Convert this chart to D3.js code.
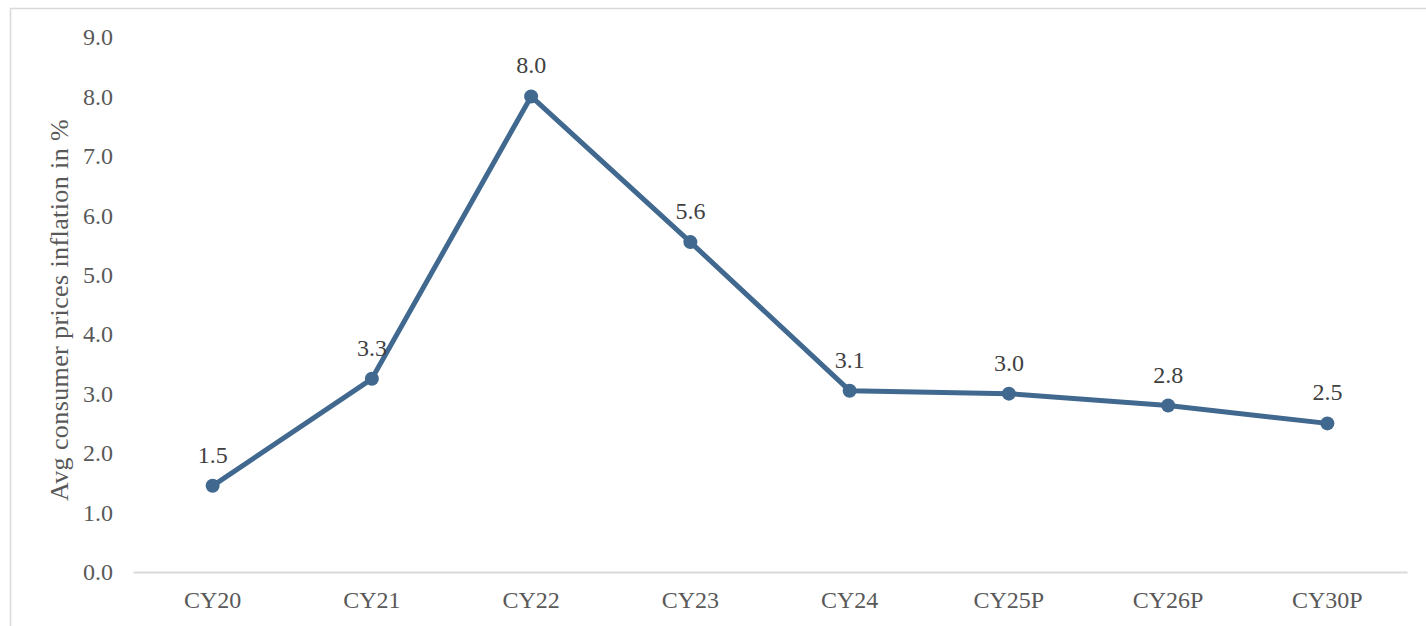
<!DOCTYPE html>
<html>
<head>
<meta charset="UTF-8">
<title>Avg consumer prices inflation</title>
<script src="https://cdn.jsdelivr.net/npm/d3@7"></script>
<style>
    body {
        margin: 0;
        padding: 0;
        background: #fff;
        font-family: 'Liberation Serif', 'Times New Roman', serif;
    }
    svg { display: block; font-family: 'Liberation Serif', 'Times New Roman', serif; }
    .tick text { fill: #595959; font-size: 24px; }
    .lbl { fill: #404040; font-size: 24px; }
</style>
</head>
<body>
<div id="chart"></div>
<script>
    // données
    const categories = ["CY20", "CY21", "CY22", "CY23", "CY24", "CY25P", "CY26P", "CY30P"];
    const inflation = [1.45, 3.25, 8.0, 5.55, 3.05, 3.0, 2.8, 2.5];
    const labels = ["1.5", "3.3", "8.0", "5.6", "3.1", "3.0", "2.8", "2.5"];
    const yTicks = [0, 1, 2, 3, 4, 5, 6, 7, 8, 9];

    const width = 1426, height = 626;
    const margin = { top: 37, right: 19, bottom: 54, left: 133 };

    const svg = d3.select("#chart").append("svg")
        .attr("width", width)
        .attr("height", height);

    // cadre gris clair
    svg.append("rect")
        .attr("x", 10.5).attr("y", 8.5)
        .attr("width", width).attr("height", height)
        .attr("fill", "none")
        .attr("stroke", "#d9d9d9")
        .attr("stroke-width", 1.5);

    const x = d3.scaleBand()
        .domain(categories)
        .range([margin.left, width - margin.right]);

    const y = d3.scaleLinear()
        .domain([0, 9])
        .range([height - margin.bottom, margin.top]);

    // axe Y (texte seulement)
    const yAxis = svg.append("g")
        .attr("transform", "translate(" + margin.left + ",0)")
        .call(d3.axisLeft(y).tickValues(yTicks).tickFormat(d3.format(".1f")).tickSize(0).tickPadding(20));
    yAxis.attr("font-family", null).attr("font-size", null);
    yAxis.select(".domain").remove();

    // axe X
    const xAxis = svg.append("g")
        .attr("transform", "translate(0," + (height - margin.bottom) + ")")
        .call(d3.axisBottom(x).tickSize(0).tickPadding(19).tickSizeOuter(0));
    xAxis.attr("font-family", null).attr("font-size", null);
    xAxis.select(".domain").attr("stroke", "#d9d9d9").attr("stroke-width", 2);
    xAxis.selectAll("text").attr("dy", "0.71em");

    // titre de l'axe Y
    svg.append("text")
        .attr("transform", "translate(68,310) rotate(-90)")
        .attr("text-anchor", "middle")
        .attr("fill", "#595959")
        .style("font-size", "26px")
        .style("letter-spacing", "0.4px")
        .text("Avg consumer prices inflation in %");

    const cx = d => x(d) + x.bandwidth() / 2;
    const pts = categories.map((c, i) => [cx(c), y(inflation[i])]);

    // ligne
    svg.append("path")
        .datum(pts)
        .attr("d", d3.line())
        .attr("fill", "none")
        .attr("stroke", "#41698f")
        .attr("stroke-width", 5)
        .attr("stroke-linejoin", "round");

    // points
    svg.selectAll(".dot")
        .data(pts)
        .enter().append("circle")
        .attr("class", "dot")
        .attr("cx", d => d[0])
        .attr("cy", d => d[1])
        .attr("r", 7)
        .attr("fill", "#41698f");

    // étiquettes de valeur
    svg.selectAll(".lbl")
        .data(pts)
        .enter().append("text")
        .attr("class", "lbl")
        .attr("x", d => d[0])
        .attr("y", d => d[1] - 23)
        .attr("text-anchor", "middle")
        .text((d, i) => labels[i]);
</script>
</body>
</html>
